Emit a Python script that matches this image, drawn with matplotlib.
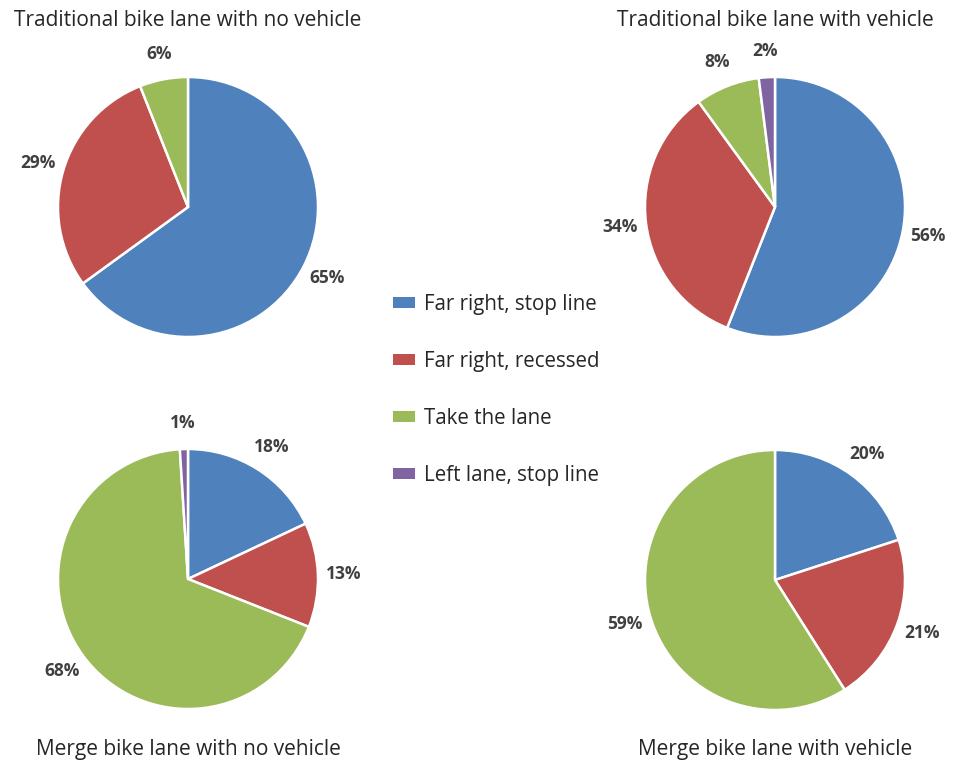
import matplotlib.pyplot as plt
from matplotlib.patches import Patch

# data
categories = ["Far right, stop line", "Far right, recessed", "Take the lane", "Left lane, stop line"]
colors = ["#4F81BD", "#C0504D", "#9BBB59", "#8064A2"]

titles = [
    "Traditional bike lane with no vehicle",
    "Traditional bike lane with vehicle",
    "Merge bike lane with no vehicle",
    "Merge bike lane with vehicle",
]
trad_no_vehicle = [65, 29, 6, 0]
trad_vehicle = [56, 34, 8, 2]
merge_no_vehicle = [18, 13, 68, 1]
merge_vehicle = [20, 21, 59, 0]
all_values = [trad_no_vehicle, trad_vehicle, merge_no_vehicle, merge_vehicle]

plt.rcParams['font.family'] = ['Open Sans', 'DejaVu Sans']

W, H = 958, 765
R = 130  # pie radius in px
fig = plt.figure(figsize=(W / 100, H / 100), dpi=100)

# pie centers (px), title y (px)
centers = [(188, 207), (775, 207), (188, 579), (775, 580)]
title_y = [20, 20, 750, 750]

for vals, title, (cx, cy), ty in zip(all_values, titles, centers, title_y):
    ax = fig.add_axes([(cx - R) / W, (H - cy - R) / H, 2 * R / W, 2 * R / H])
    v = [x for x in vals if x > 0]
    c = [col for x, col in zip(vals, colors) if x > 0]
    wedges, texts = ax.pie(v, colors=c, startangle=90, counterclock=False,
                           labels=[f"{x}%" for x in v], labeldistance=1.2,
                           wedgeprops=dict(edgecolor="white", linewidth=1.8),
                           textprops=dict(fontsize=12.5, fontweight="bold", color="#404040"))
    for t in texts:
        t.set_ha("center")
        t.set_va("center")
    ax.set_xlim(-1, 1)
    ax.set_ylim(-1, 1)
    ax.set_aspect("equal")
    fig.text(cx / W, 1 - ty / H, title, ha="center", va="center", fontsize=15, color="#262626")

handles = [Patch(facecolor=col, edgecolor="none") for col in colors]
fig.legend(handles, categories, loc="center", bbox_to_anchor=(496 / W, 1 - 390 / H),
           frameon=False, fontsize=14.8, labelspacing=1.75, handlelength=1.1,
           handleheight=0.45, handletextpad=0.4, labelcolor="#262626")

fig.savefig("out.png", dpi=100)
